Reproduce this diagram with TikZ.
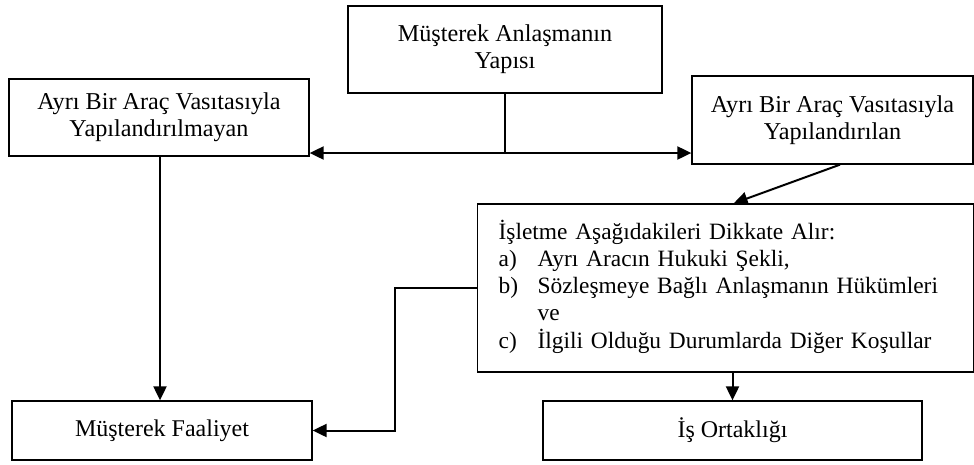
\documentclass[tikz,border=0pt]{standalone}
\usepackage{fontspec}
\setmainfont{Liberation Serif}
\usetikzlibrary{arrows.meta}
\begin{document}
\begin{tikzpicture}[x=1pt,y=-1pt,
  box/.style={draw,line width=1.3pt,inner sep=0pt,align=center,
    font=\fontsize{24.2}{27}\selectfont},
  arr/.style={line width=2pt,-{Triangle[length=14pt,width=13pt]}},
  conn/.style={line width=2pt}]
\useasboundingbox (0,0) rectangle (974,464);
\node[box,minimum width=314pt,minimum height=87pt] (top) at (505,49.5)
  {Müşterek Anlaşmanın\\Yapısı};
\node[box,minimum width=300pt,minimum height=77pt] (left) at (159,117.5)
  {Ayrı Bir Araç Vasıtasıyla\\Yapılandırılmayan};
\node[box,minimum width=281pt,minimum height=88pt] (right) at (832.5,120)
  {Ayrı Bir Araç Vasıtasıyla\\Yapılandırılan};
\node[box,minimum height=168pt,inner xsep=21pt,text width=454pt,align=left,
  anchor=west,font=\fontsize{23.4}{27.2}\selectfont] (big) at (477,288)
  {\begin{tabular}{@{}p{39pt}@{}l@{}}
   \multicolumn{2}{@{}l@{}}{İşletme Aşağıdakileri Dikkate Alır:}\\
   a) & Ayrı Aracın Hukuki Şekli,\\
   b) & Sözleşmeye Bağlı Anlaşmanın Hükümleri\\
      & ve\\
   c) & İlgili Olduğu Durumlarda Diğer Koşullar
   \end{tabular}};
\node[box,minimum width=300pt,minimum height=59pt,font=\fontsize{24}{27}\selectfont] (faal) at (162,430.5)
  {Müşterek Faaliyet};
\node[box,minimum width=379pt,minimum height=59pt,font=\fontsize{24}{27}\selectfont] (is) at (732.5,430.5)
  {İş Ortaklığı};
\coordinate (j) at (505,153);
\draw[conn] (top.south) -- (j);
\draw[arr] (j) -- (left.east |- j);
\draw[arr] (j) -- (right.west |- j);
\draw[arr] ([xshift=1pt]left.south) -- ([xshift=1pt]left.south |- faal.north);
\draw[arr] ([xshift=7.5pt]right.south) -- ([xshift=8pt]big.north);
\draw[arr] (big.west) -- ++(-82,0) |- (faal.east);
\draw[arr] (is.north |- big.south) -- (is.north);
\end{tikzpicture}
\end{document}
